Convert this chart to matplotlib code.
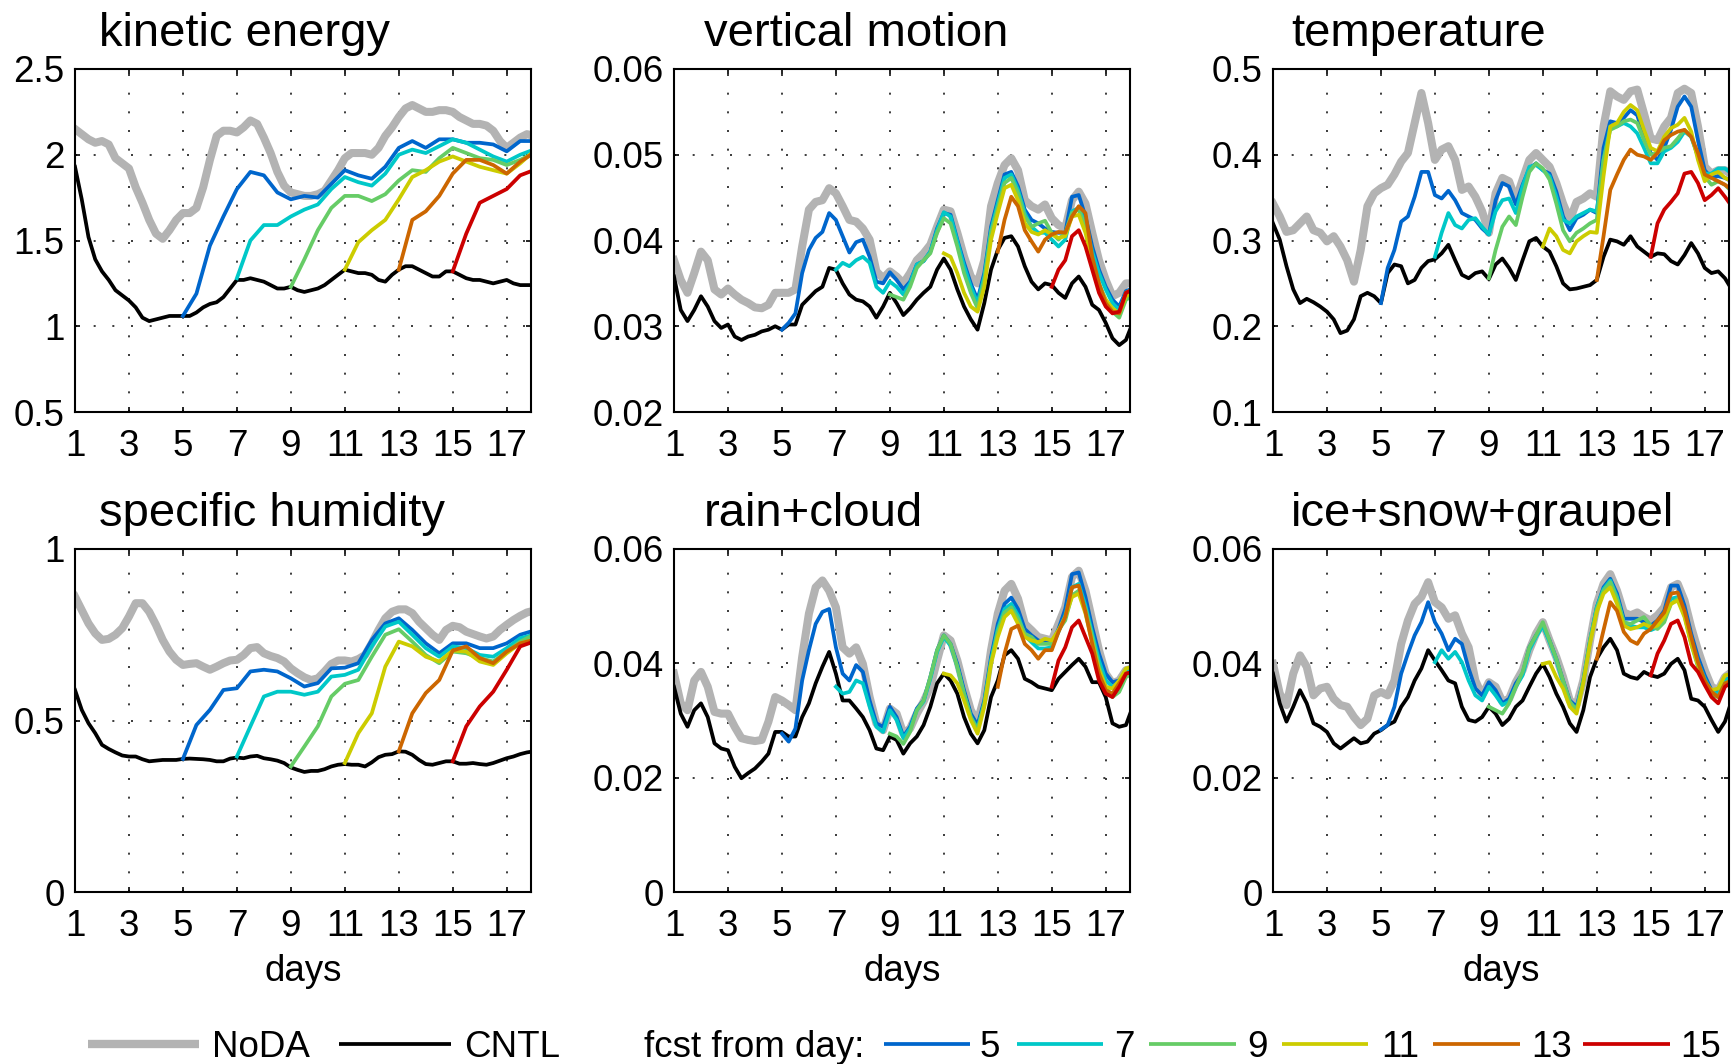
import numpy as np
import matplotlib.pyplot as plt
from matplotlib.lines import Line2D

plt.rcParams['font.family'] = ['Liberation Sans', 'DejaVu Sans']

# 6-hourly values from day 1 to day 18 (axis stops at 17.9)
STEP = 0.25
FCST_DAYS = [5, 7, 9, 11, 13, 15]
FCST_COLORS = ['#0066cc', '#00c8c8', '#66cc66', '#cccc00', '#cc6600', '#cc0000']
GRAY = '#b3b3b3'

# ---- kinetic energy ----
ke_noda = [2.15, 2.12, 2.09, 2.07, 2.08, 2.06, 1.98, 1.95,
           1.92, 1.81, 1.72, 1.62, 1.54, 1.51, 1.56, 1.62,
           1.66, 1.66, 1.69, 1.81, 1.97, 2.11, 2.14, 2.14,
           2.13, 2.16, 2.20, 2.18, 2.10, 2.01, 1.90, 1.82,
           1.78, 1.77, 1.76, 1.76, 1.77, 1.79, 1.85, 1.91,
           1.98, 2.01, 2.01, 2.01, 2.00, 2.04, 2.11, 2.16,
           2.22, 2.27, 2.29, 2.27, 2.25, 2.25, 2.26, 2.26,
           2.25, 2.22, 2.20, 2.18, 2.18, 2.17, 2.14, 2.08,
           2.04, 2.07, 2.10, 2.12, 2.11]
ke_cntl = [1.93, 1.74, 1.52, 1.39, 1.32, 1.27, 1.21, 1.18,
           1.15, 1.11, 1.05, 1.03, 1.04, 1.05, 1.06, 1.06,
           1.06, 1.06, 1.08, 1.11, 1.13, 1.14, 1.17, 1.22,
           1.27, 1.27, 1.28, 1.27, 1.26, 1.24, 1.22, 1.22,
           1.23, 1.21, 1.20, 1.21, 1.22, 1.24, 1.27, 1.30,
           1.33, 1.32, 1.31, 1.31, 1.30, 1.27, 1.26, 1.30,
           1.33, 1.35, 1.35, 1.33, 1.31, 1.29, 1.29, 1.32,
           1.32, 1.30, 1.28, 1.27, 1.27, 1.26, 1.25, 1.26,
           1.27, 1.25, 1.24, 1.24, 1.24]
# forecasts read every half day
ke_f5 = [1.06, 1.19, 1.47, 1.64, 1.80, 1.90, 1.88, 1.78, 1.74, 1.76, 1.75, 1.83, 1.91, 1.88,
         1.86, 1.93, 2.04, 2.08, 2.04, 2.09, 2.09, 2.07, 2.07, 2.06, 2.02, 2.08, 2.08]
ke_f7 = [1.28, 1.50, 1.59, 1.59, 1.64, 1.68, 1.71, 1.80, 1.87, 1.84, 1.82, 1.89, 2.00, 2.03,
         2.01, 2.05, 2.09, 2.07, 2.03, 1.99, 1.96, 2.00, 2.03]
ke_f9 = [1.23, 1.39, 1.56, 1.69, 1.76, 1.76, 1.73, 1.77, 1.85, 1.91, 1.90, 1.98, 2.04, 2.01,
         1.98, 1.97, 1.94, 1.97, 2.01]
ke_f11 = [1.33, 1.49, 1.56, 1.62, 1.74, 1.87, 1.91, 1.96, 1.99, 1.96, 1.93, 1.91, 1.89, 1.95, 2.02]
ke_f13 = [1.33, 1.62, 1.67, 1.76, 1.89, 1.97, 1.97, 1.94, 1.89, 1.96, 2.01]
ke_f15 = [1.32, 1.54, 1.72, 1.76, 1.80, 1.88, 1.91]

# ---- vertical motion (units of 1e-3) ----
w_noda = [37.7, 35.4, 33.9, 36.2, 38.7, 37.7, 34.3, 33.7,
          34.4, 33.7, 33.1, 32.7, 32.2, 32.1, 32.5, 33.9,
          33.9, 33.9, 34.3, 39.3, 43.6, 44.5, 44.7, 46.1,
          45.5, 44.0, 42.4, 42.2, 41.4, 40.1, 36.4, 35.6,
          36.4, 35.8, 35.0, 36.2, 37.7, 38.5, 39.5, 41.6,
          43.6, 43.4, 40.9, 38.1, 35.8, 35.0, 37.7, 44.0,
          46.7, 48.8, 49.6, 48.2, 44.7, 44.0, 43.6, 44.2,
          42.6, 41.8, 41.4, 44.7, 45.7, 44.3, 40.9, 37.7,
          35.4, 33.5, 33.9, 35.0, 35.0]
w_cntl = [35.8, 31.9, 30.6, 31.9, 33.5, 32.3, 30.6, 29.8,
          30.2, 28.8, 28.4, 28.8, 29.0, 29.4, 29.6, 30.0,
          29.6, 30.2, 30.2, 32.5, 33.3, 34.1, 34.6, 36.8,
          36.6, 35.0, 33.7, 33.1, 32.9, 32.3, 31.0, 32.3,
          33.9, 32.7, 31.3, 32.1, 33.1, 33.9, 34.6, 36.6,
          37.9, 36.6, 34.3, 32.3, 30.8, 29.6, 32.7, 36.6,
          38.9, 40.3, 40.5, 39.3, 37.0, 35.2, 34.3, 35.0,
          34.8, 33.9, 33.3, 35.0, 35.8, 34.6, 32.5, 31.9,
          30.4, 28.6, 27.8, 28.4, 30.4]
w_f5 = [29.6, 30.4, 31.5, 36.2, 38.9, 40.3, 41.0, 43.2,
        42.4, 40.5, 38.6, 39.8, 40.1, 38.1, 35.2, 35.0,
        36.3, 35.4, 34.3, 35.2, 37.2, 37.6, 38.7, 41.4,
        43.2, 43.0, 40.1, 37.4, 35.0, 33.1, 36.2, 41.6,
        44.7, 47.7, 48.0, 46.3, 43.6, 42.4, 42.0, 41.4,
        41.0, 40.9, 40.9, 45.1, 45.3, 42.8, 39.3, 36.6,
        34.6, 33.1, 32.3, 34.1, 34.4]
w_f7 = [36.6, 37.4, 37.0, 37.7, 38.1, 37.4, 34.6, 33.9,
        35.2, 34.6, 33.7, 35.0, 37.2, 37.6, 38.7, 41.2,
        43.3, 42.8, 39.9, 37.0, 34.6, 32.7, 35.8, 41.2,
        44.3, 47.3, 47.7, 45.9, 43.2, 41.6, 40.9, 40.9,
        40.1, 39.3, 40.1, 43.4, 43.8, 42.0, 38.7, 36.2,
        34.3, 32.7, 31.9, 33.9, 34.4]
w_f9 = [33.7, 33.4, 33.1, 34.6, 36.8, 37.7, 38.5, 40.9,
        42.6, 42.0, 39.3, 36.2, 33.9, 32.1, 35.4, 40.9,
        43.8, 46.7, 47.3, 45.5, 42.8, 41.6, 42.0, 42.3,
        40.9, 40.1, 40.9, 43.2, 43.6, 41.6, 37.7, 35.0,
        33.1, 31.7, 31.0, 33.1, 33.5]
w_f11 = [38.5, 38.1, 36.2, 33.9, 32.3, 31.7, 34.6, 40.1,
         43.2, 46.1, 46.5, 44.7, 42.0, 41.0, 40.7, 41.2,
         40.7, 40.3, 40.5, 42.8, 43.0, 40.9, 37.4, 34.6,
         33.1, 32.1, 31.5, 33.5, 33.9]
w_f13 = [38.7, 42.4, 45.1, 44.0, 41.2, 39.9, 38.7, 40.1,
         40.7, 41.0, 40.9, 42.8, 44.0, 43.2, 38.1, 35.0,
         32.7, 31.7, 31.5, 33.9, 34.3]
w_f15 = [34.6, 36.6, 37.7, 40.5, 41.2, 39.3, 36.6, 33.9, 32.3, 31.5, 31.7, 33.9, 34.3]

# ---- temperature (units of 1e-2) ----
t_noda = [34.3, 32.8, 31.0, 31.2, 32.0, 32.8, 31.2, 30.9,
          29.9, 30.5, 29.3, 27.7, 25.2, 28.9, 34.0, 35.5,
          36.1, 36.5, 37.7, 39.2, 40.2, 43.7, 47.2, 43.7,
          39.4, 40.6, 41.0, 39.4, 35.9, 36.3, 35.1, 33.4,
          30.9, 35.5, 37.3, 36.9, 34.7, 37.1, 39.4, 40.2,
          39.4, 38.6, 36.7, 34.3, 32.4, 34.5, 34.9, 35.5,
          35.1, 43.3, 47.4, 46.8, 46.4, 47.4, 47.6, 44.8,
          41.9, 41.7, 43.3, 44.3, 47.2, 47.7, 47.2, 43.3,
          38.6, 37.8, 38.2, 38.2, 37.7]
t_cntl = [32.0, 30.1, 27.0, 24.3, 22.7, 23.2, 22.8, 22.3,
          21.7, 20.8, 19.2, 19.5, 20.8, 23.5, 23.9, 23.5,
          22.7, 26.2, 27.2, 27.0, 25.0, 25.4, 26.8, 27.6,
          27.8, 28.5, 29.5, 27.7, 26.0, 25.6, 26.2, 26.4,
          25.5, 27.2, 27.9, 26.8, 25.4, 27.7, 29.9, 30.3,
          29.3, 28.7, 27.0, 25.0, 24.3, 24.4, 24.6, 24.8,
          25.4, 28.1, 30.1, 29.9, 29.5, 30.5, 29.3, 28.7,
          28.1, 28.5, 28.4, 27.6, 27.2, 28.3, 29.7, 28.5,
          26.8, 26.2, 26.4, 25.6, 24.3]
t_f5 = [22.7, 26.8, 28.9, 32.2, 32.8, 35.1, 38.0, 38.0,
        35.3, 34.9, 35.8, 34.7, 33.2, 32.8, 32.4, 31.4,
        30.7, 34.7, 36.7, 36.3, 34.2, 36.5, 38.4, 39.0,
        38.2, 37.8, 35.7, 32.8, 31.2, 32.6, 33.0, 33.6,
        33.2, 40.8, 43.9, 43.7, 44.3, 45.2, 44.6, 42.1,
        40.2, 39.4, 40.8, 42.9, 45.6, 46.8, 45.6, 41.7,
        38.2, 37.3, 37.5, 37.3, 36.9]
t_f7 = [28.1, 30.9, 33.2, 31.8, 31.4, 32.4, 32.6, 31.6,
        30.7, 33.4, 34.7, 34.9, 33.2, 36.3, 38.6, 38.8,
        38.2, 37.5, 35.1, 32.4, 32.0, 32.8, 33.2, 33.6,
        33.4, 39.4, 43.3, 43.3, 43.7, 43.3, 42.5, 40.8,
        39.0, 39.0, 40.4, 40.8, 41.5, 42.7, 42.1, 39.8,
        37.8, 37.8, 38.4, 38.4, 37.8]
t_f9 = [25.6, 28.9, 31.6, 32.8, 31.8, 35.1, 38.0, 39.0,
        38.4, 37.1, 34.3, 31.2, 29.9, 30.9, 31.4, 32.0,
        32.4, 39.4, 42.9, 43.3, 43.9, 44.1, 43.7, 41.7,
        40.0, 40.2, 40.8, 41.0, 41.9, 42.9, 42.1, 39.8,
        37.5, 36.5, 36.9, 36.5, 35.7]
t_f11 = [29.3, 31.4, 30.5, 28.9, 28.5, 29.9, 30.5, 31.0,
         30.9, 37.5, 43.3, 43.7, 45.0, 45.8, 45.2, 42.9,
         40.8, 40.4, 42.1, 43.1, 43.5, 44.3, 42.7, 39.4,
         36.9, 37.7, 38.0, 37.3, 36.9]
t_f13 = [25.4, 30.5, 35.9, 37.7, 39.4, 40.6, 40.0, 39.8,
         39.4, 40.2, 41.7, 42.3, 42.7, 42.9, 42.1, 40.2,
         37.7, 37.3, 36.9, 36.5, 35.9]
t_f15 = [28.1, 32.0, 33.6, 34.5, 35.5, 37.8, 38.0, 36.7, 34.7, 35.3, 36.1, 35.1, 34.0]

# ---- specific humidity ----
qv_noda = [0.861, 0.822, 0.783, 0.754, 0.735, 0.738, 0.750, 0.769,
           0.803, 0.842, 0.842, 0.817, 0.779, 0.735, 0.701, 0.677,
           0.662, 0.665, 0.667, 0.657, 0.648, 0.657, 0.667, 0.675,
           0.677, 0.691, 0.711, 0.714, 0.696, 0.688, 0.682, 0.672,
           0.652, 0.638, 0.626, 0.618, 0.623, 0.643, 0.665, 0.675,
           0.675, 0.672, 0.679, 0.691, 0.725, 0.764, 0.798, 0.817,
           0.824, 0.824, 0.813, 0.788, 0.769, 0.750, 0.735, 0.764,
           0.776, 0.772, 0.759, 0.752, 0.745, 0.739, 0.745, 0.764,
           0.779, 0.793, 0.805, 0.815, 0.820]
qv_cntl = [0.589, 0.531, 0.492, 0.463, 0.429, 0.417, 0.407, 0.398,
           0.395, 0.395, 0.387, 0.381, 0.383, 0.385, 0.385, 0.385,
           0.388, 0.389, 0.388, 0.387, 0.385, 0.381, 0.381, 0.389,
           0.392, 0.390, 0.395, 0.397, 0.390, 0.387, 0.383, 0.376,
           0.363, 0.356, 0.350, 0.353, 0.353, 0.358, 0.366, 0.371,
           0.373, 0.371, 0.371, 0.366, 0.378, 0.393, 0.400, 0.402,
           0.410, 0.409, 0.400, 0.385, 0.373, 0.371, 0.376, 0.381,
           0.381, 0.374, 0.374, 0.376, 0.373, 0.371, 0.376, 0.383,
           0.390, 0.395, 0.402, 0.407, 0.410]
# forecasts read every half day
qv_f5 = [0.388, 0.487, 0.531, 0.589, 0.594, 0.643, 0.648, 0.643, 0.623, 0.599, 0.609, 0.652,
         0.654, 0.667, 0.735, 0.783, 0.798, 0.764, 0.725, 0.696, 0.725, 0.725, 0.711, 0.711,
         0.725, 0.750, 0.762]
qv_f7 = [0.395, 0.483, 0.570, 0.584, 0.584, 0.575, 0.584, 0.628, 0.633, 0.648, 0.716, 0.774,
         0.788, 0.750, 0.711, 0.686, 0.716, 0.711, 0.691, 0.686, 0.711, 0.740, 0.750]
qv_f9 = [0.366, 0.424, 0.483, 0.570, 0.607, 0.618, 0.686, 0.750, 0.766, 0.730, 0.691, 0.667,
         0.701, 0.696, 0.682, 0.672, 0.701, 0.730, 0.750]
qv_f11 = [0.376, 0.463, 0.521, 0.657, 0.730, 0.716, 0.686, 0.672, 0.704, 0.701, 0.672, 0.662,
          0.696, 0.725, 0.735]
qv_f13 = [0.410, 0.521, 0.580, 0.618, 0.704, 0.716, 0.682, 0.667, 0.701, 0.725, 0.735]
qv_f15 = [0.381, 0.483, 0.541, 0.584, 0.648, 0.716, 0.730]

# ---- rain+cloud (units of 1e-3) ----
rc_noda = [38.2, 33.0, 31.8, 37.0, 38.5, 35.9, 31.5, 31.2,
           31.2, 28.9, 26.9, 26.6, 26.4, 26.6, 29.8, 34.1,
           33.5, 32.7, 31.8, 41.1, 48.7, 53.3, 54.5, 52.7,
           49.8, 42.8, 41.7, 42.8, 39.9, 34.1, 29.5, 28.3,
           32.1, 31.2, 27.7, 28.6, 31.2, 33.3, 35.9, 40.5,
           44.9, 44.0, 40.5, 35.9, 31.8, 29.8, 34.1, 42.3,
           48.7, 52.7, 53.9, 51.3, 46.9, 45.8, 44.6, 44.3,
           44.0, 46.9, 49.8, 55.1, 56.2, 52.7, 47.5, 42.3,
           38.2, 36.5, 37.0, 38.8, 39.1]
rc_cntl = [35.9, 31.2, 28.9, 31.8, 33.0, 30.6, 26.0, 25.1,
           24.8, 21.9, 19.9, 20.8, 21.6, 22.8, 24.2, 28.0,
           28.0, 27.2, 27.2, 30.6, 33.0, 36.5, 39.4, 42.0,
           38.2, 33.5, 33.5, 32.1, 30.6, 28.3, 25.1, 24.8,
           27.2, 26.6, 24.2, 26.0, 27.2, 29.2, 32.4, 36.5,
           38.2, 37.0, 34.7, 30.6, 27.7, 26.0, 28.3, 34.1,
           37.0, 41.4, 42.3, 40.8, 37.3, 36.7, 35.9, 35.6,
           35.3, 37.3, 38.5, 39.7, 40.8, 39.4, 36.7, 36.7,
           34.1, 29.5, 28.9, 29.2, 32.4]
rc_f5 = [27.7, 26.3, 28.6, 37.0, 42.3, 46.9, 49.0, 49.5,
         42.8, 38.2, 37.0, 39.7, 38.5, 33.5, 29.5, 28.9,
         32.4, 30.6, 27.2, 28.9, 32.1, 33.5, 37.6, 42.3,
         44.9, 43.4, 39.9, 35.3, 31.2, 29.2, 33.5, 41.1,
         46.9, 50.4, 51.5, 49.5, 46.0, 44.9, 44.0, 43.7,
         43.4, 46.0, 49.5, 55.6, 55.9, 51.6, 46.3, 41.7,
         38.2, 36.7, 37.0, 38.5, 39.1]
rc_f7 = [35.9, 34.7, 35.0, 37.0, 36.5, 32.4, 28.9, 28.0,
         31.8, 30.1, 26.9, 28.6, 31.8, 33.3, 37.3, 42.0,
         44.6, 43.1, 39.4, 34.7, 30.6, 28.6, 33.0, 40.5,
         46.0, 49.5, 50.4, 48.4, 44.9, 43.7, 42.6, 42.6,
         42.8, 45.5, 48.4, 53.3, 53.9, 50.1, 45.2, 40.5,
         37.0, 35.9, 36.7, 38.5, 39.1]
rc_f9 = [27.7, 27.2, 25.9, 28.0, 31.8, 33.5, 37.6, 42.3,
         44.9, 43.4, 39.4, 34.7, 30.6, 28.3, 33.0, 40.2,
         45.5, 48.9, 49.8, 47.8, 45.2, 44.6, 43.4, 43.4,
         43.4, 45.8, 47.5, 51.9, 52.7, 49.5, 44.6, 39.4,
         35.9, 34.1, 35.0, 37.6, 38.2]
rc_f11 = [38.2, 37.9, 36.5, 33.5, 30.1, 27.7, 32.4, 39.9,
          44.6, 48.1, 49.2, 46.9, 44.6, 44.0, 43.7, 44.3,
          44.0, 45.8, 48.1, 51.6, 52.2, 48.7, 43.7, 38.8,
          35.9, 35.6, 37.0, 39.1, 39.4]
rc_f13 = [35.9, 41.7, 46.0, 46.6, 43.4, 42.3, 40.8, 42.3,
          42.3, 45.5, 48.1, 53.3, 53.6, 49.0, 43.4, 38.2,
          35.3, 34.7, 36.5, 38.2, 38.5]
rc_f15 = [35.9, 40.5, 42.8, 46.3, 47.5, 44.6, 41.7, 37.0, 34.7, 34.1, 35.9, 38.2, 38.5]

# ---- ice+snow+graupel (units of 1e-3) ----
isg_noda = [39.9, 34.7, 32.7, 38.2, 41.4, 39.4, 34.4, 35.6,
            35.9, 33.8, 32.7, 32.4, 30.6, 29.2, 30.3, 34.4,
            35.0, 34.4, 37.0, 43.4, 47.5, 50.4, 51.6, 54.2,
            50.7, 49.8, 47.8, 48.4, 45.2, 42.8, 37.0, 34.4,
            36.7, 35.9, 33.3, 33.8, 36.7, 38.8, 42.3, 45.2,
            47.2, 44.0, 41.1, 37.6, 33.5, 32.7, 37.0, 44.0,
            50.4, 53.9, 55.6, 52.7, 48.9, 48.4, 48.9, 48.1,
            47.5, 48.4, 49.8, 53.3, 53.9, 51.0, 46.3, 42.3,
            38.8, 35.9, 35.3, 37.6, 38.5]
isg_cntl = [38.2, 33.0, 29.8, 32.4, 35.3, 33.0, 29.5, 28.9,
            28.0, 26.0, 25.1, 26.0, 26.9, 26.0, 26.3, 27.7,
            28.3, 29.2, 29.8, 32.4, 34.1, 37.0, 39.1, 42.3,
            40.5, 38.8, 37.0, 36.5, 32.4, 30.1, 29.8, 30.6,
            32.4, 31.2, 29.2, 30.3, 32.4, 33.5, 35.9, 38.2,
            39.9, 37.6, 34.7, 32.4, 29.5, 28.0, 31.8, 37.6,
            40.8, 42.8, 44.3, 42.3, 38.2, 37.6, 37.3, 38.5,
            37.9, 37.6, 38.2, 39.9, 40.8, 38.8, 33.8, 33.5,
            32.4, 30.1, 28.0, 29.8, 33.5]
isg_f5 = [28.4, 29.2, 32.4, 38.2, 41.7, 44.9, 47.2, 50.7,
          47.2, 45.2, 42.3, 44.3, 43.4, 39.1, 35.6, 34.4,
          36.7, 35.3, 33.0, 33.8, 36.5, 38.2, 42.8, 44.9,
          46.6, 44.0, 40.8, 37.0, 33.5, 32.4, 37.0, 44.0,
          49.8, 53.3, 54.8, 52.2, 47.8, 47.8, 47.8, 47.2,
          46.6, 47.5, 49.2, 53.6, 53.6, 50.1, 45.2, 41.1,
          37.9, 35.3, 35.0, 37.0, 37.6]
isg_f7 = [40.2, 42.3, 40.8, 42.0, 40.2, 37.0, 34.4, 33.5,
          35.9, 34.4, 32.7, 33.3, 35.9, 37.9, 42.3, 44.6,
          46.6, 43.7, 40.5, 36.7, 33.0, 32.0, 36.7, 44.0,
          49.8, 53.0, 54.5, 51.6, 47.2, 46.6, 46.3, 46.3,
          45.8, 46.3, 47.5, 51.3, 51.6, 48.7, 44.0, 40.2,
          37.3, 35.0, 34.7, 37.0, 37.6]
isg_f9 = [32.4, 31.8, 31.2, 33.0, 35.9, 38.5, 42.8, 44.9,
          47.2, 44.0, 40.8, 37.0, 33.3, 31.8, 37.0, 44.0,
          49.5, 52.7, 54.2, 51.3, 47.2, 46.9, 47.5, 48.1,
          46.6, 46.0, 47.2, 50.4, 51.3, 48.4, 43.4, 39.4,
          36.5, 34.4, 34.1, 36.5, 37.0]
isg_f11 = [39.9, 40.2, 37.6, 35.6, 32.4, 31.2, 36.5, 43.4,
           49.0, 52.2, 53.3, 50.4, 46.6, 46.0, 46.3, 46.9,
           46.3, 46.6, 48.1, 50.4, 51.0, 48.1, 43.4, 39.7,
           36.8, 35.3, 35.6, 37.9, 38.2]
isg_f13 = [40.8, 45.8, 50.7, 49.2, 45.5, 44.0, 43.4, 45.2,
           46.0, 47.5, 48.9, 52.2, 52.4, 49.2, 44.6, 40.2,
           37.0, 35.0, 34.1, 36.5, 37.0]
isg_f15 = [37.9, 41.7, 44.0, 46.9, 47.5, 44.6, 39.9, 38.5, 36.2, 34.1, 33.0, 35.9, 36.7]

# title, NoDA, CNTL, forecasts, unit scale, forecast step, ylim, yticks
panels = [
    ('kinetic energy', ke_noda, ke_cntl, [ke_f5, ke_f7, ke_f9, ke_f11, ke_f13, ke_f15],
     1.0, 0.5, (0.5, 2.5), [0.5, 1, 1.5, 2, 2.5]),
    ('vertical motion', w_noda, w_cntl, [w_f5, w_f7, w_f9, w_f11, w_f13, w_f15],
     1e-3, 0.25, (0.02, 0.06), [0.02, 0.03, 0.04, 0.05, 0.06]),
    ('temperature', t_noda, t_cntl, [t_f5, t_f7, t_f9, t_f11, t_f13, t_f15],
     1e-2, 0.25, (0.1, 0.5), [0.1, 0.2, 0.3, 0.4, 0.5]),
    ('specific humidity', qv_noda, qv_cntl, [qv_f5, qv_f7, qv_f9, qv_f11, qv_f13, qv_f15],
     1.0, 0.5, (0, 1), [0, 0.5, 1]),
    ('rain+cloud', rc_noda, rc_cntl, [rc_f5, rc_f7, rc_f9, rc_f11, rc_f13, rc_f15],
     1e-3, 0.25, (0, 0.06), [0, 0.02, 0.04, 0.06]),
    ('ice+snow+graupel', isg_noda, isg_cntl, [isg_f5, isg_f7, isg_f9, isg_f11, isg_f13, isg_f15],
     1e-3, 0.25, (0, 0.06), [0, 0.02, 0.04, 0.06]),
]

W, H = 1733, 1064
COL_X = [75, 674, 1273]
ROW_Y = [69, 549]
AX_W, AX_H = 456, 343
TITLE_DX = [0.052, 0.066, 0.039]
FS = 26.5
LW = 2.7

fig = plt.figure(figsize=(W / 100, H / 100), dpi=100)

for i, (title, noda, cntl, fcsts, scale, fstep, ylim, yticks) in enumerate(panels):
    r, c = divmod(i, 3)
    ax = fig.add_axes([COL_X[c] / W, 1 - (ROW_Y[r] + AX_H) / H, AX_W / W, AX_H / H])
    ax.plot(1 + STEP * np.arange(len(noda)), np.array(noda) * scale, color=GRAY, lw=5.8)
    ax.plot(1 + STEP * np.arange(len(cntl)), np.array(cntl) * scale, color='k', lw=LW)
    for d, vals, col in zip(FCST_DAYS, fcsts, FCST_COLORS):
        ax.plot(d + fstep * np.arange(len(vals)), np.array(vals) * scale, color=col, lw=LW)
    ax.set_xlim(1, 17.9)
    ax.set_ylim(*ylim)
    ax.set_xticks(range(1, 18, 2))
    ax.set_yticks(yticks)
    ax.set_yticklabels(['%g' % t for t in yticks])
    ax.grid(True, color='0.1', lw=1.2, linestyle=(0, (1.2, 10)))
    ax.tick_params(direction='in', top=True, right=True, length=3.5, width=1.2, labelsize=FS)
    ax.tick_params(axis='x', pad=12.5)
    ax.tick_params(axis='y', pad=7.5)
    for s in ax.spines.values():
        s.set_linewidth(1.5)
    ax.text(TITLE_DX[c], 1 + 23 / AX_H, title, transform=ax.transAxes,
            fontsize=34, ha='left', va='baseline')
    if r == 1:
        ax.text(0.5, -(981 - 892) / AX_H, 'days', transform=ax.transAxes,
                fontsize=FS, ha='center', va='baseline')

# legend row along the bottom
ly = 1 - 1044 / H
tb = 1 - 1057 / H


def leg_line(x0, x1, color, lw):
    fig.add_artist(Line2D([x0 / W, x1 / W], [ly, ly], transform=fig.transFigure,
                          color=color, lw=lw, solid_capstyle='butt'))


def leg_text(x, s):
    fig.text(x / W, tb, s, fontsize=FS, ha='left', va='baseline')


leg_line(88, 199, GRAY, 6)
leg_text(212, 'NoDA')
leg_line(339, 451, 'k', LW)
leg_text(464, 'CNTL')
leg_text(644, 'fcst from day:')
leg_x = [(884, 970, 980), (1017, 1103, 1114), (1149, 1236, 1247),
         (1282, 1368, 1381), (1433, 1520, 1531), (1583, 1670, 1680)]
for (x0, x1, xt), d, col in zip(leg_x, FCST_DAYS, FCST_COLORS):
    leg_line(x0, x1, col, LW)
    leg_text(xt, str(d))

fig.savefig('out.png', dpi=100)
